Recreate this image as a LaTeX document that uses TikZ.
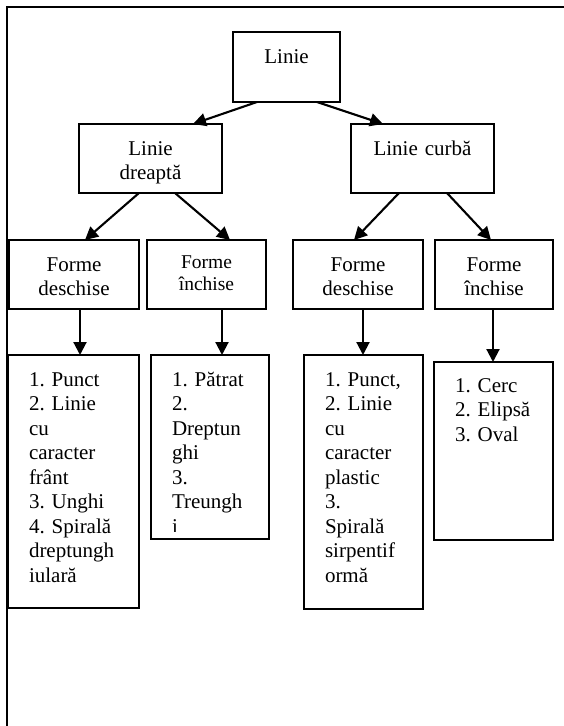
\documentclass[tikz,border=0pt]{standalone}
\usepackage{fontspec}
\setmainfont{Liberation Serif}
\frenchspacing
\usetikzlibrary{arrows.meta}

\begin{document}
\begin{tikzpicture}[x=1pt, y=-1pt,
  tbox/.style={draw, line width=2.1pt, anchor=north west, inner sep=0pt, outer sep=0pt, align=center, font=\fontsize{21}{24.5}\selectfont},
  lbox/.style={draw, line width=2.1pt, anchor=north west, inner sep=0pt, outer sep=0pt, align=left, font=\fontsize{21}{24.5}\selectfont, execute at begin node={\leftskip=21pt\relax}},
  arr/.style={-{Triangle[length=13pt, width=13pt]}, line width=2.1pt}
]
  \useasboundingbox (0, 0) rectangle (564, 726);
  \draw[line width=2.2pt] (7, 726) -- (7, 7) -- (564, 7);

  \node[tbox, text width=107pt, text height=31pt, text depth=39pt] (linie) at (233, 32) {Linie};
  \node[tbox, text width=143pt, text height=31pt, text depth=38pt] (dreapta) at (79, 124) {Linie\\dreaptă};
  \node[tbox, text width=143pt, text height=31pt, text depth=38pt] (curba) at (351, 124) {Linie curbă};

  \node[tbox, text width=130pt, text height=31pt, text depth=38pt] (fdL) at (9, 240) {Forme\\deschise};
  \node[tbox, text width=119pt, text height=28pt, text depth=41pt, font=\fontsize{19.5}{22}\selectfont] (fiL) at (147, 240) {Forme\\închise};
  \node[tbox, text width=130pt, text height=31pt, text depth=38pt] (fdR) at (293, 240) {Forme\\deschise};
  \node[tbox, text width=118pt, text height=31pt, text depth=38pt] (fiR) at (435, 240) {Forme\\închise};

  \node[lbox, text width=131pt, text height=31pt, text depth=222pt] (lstL1) at (8, 355) {1. Punct\\2. Linie\\cu\\caracter\\frânt\\3. Unghi\\4. Spirală\\dreptungh\\iulară};
  \begin{scope}
    \clip (140, 340) rectangle (280, 531);
    \node[lbox, draw=none, text width=118pt, text height=31pt, text depth=153pt] (lstL2) at (151, 355) {1. Pătrat\\2.\\Dreptun\\ghi\\3.\\Treungh\\i};
  \end{scope}
  \draw[line width=2.1pt] (lstL2.north west) rectangle (lstL2.south east);
  \node[lbox, text width=119pt, text height=31pt, text depth=223pt] (lstR1) at (304, 355) {1. Punct,\\2. Linie\\cu\\caracter\\plastic\\3.\\Spirală\\sirpentif\\ormă};
  \node[lbox, text width=119pt, text height=30pt, text depth=148pt] (lstR2) at (434, 362) {1. Cerc\\2. Elipsă\\3. Oval};

  \draw[arr] ([xshift=24pt]linie.south west) -- ([xshift=114pt]dreapta.north west);
  \draw[arr] ([xshift=84pt]linie.south west) -- ([xshift=32pt]curba.north west);
  \draw[arr] ([xshift=60pt]dreapta.south west) -- ([xshift=76pt]fdL.north west);
  \draw[arr] ([xshift=96pt]dreapta.south west) -- ([xshift=83pt]fiL.north west);
  \draw[arr] ([xshift=48pt]curba.south west) -- ([xshift=61pt]fdR.north west);
  \draw[arr] ([xshift=96pt]curba.south west) -- ([xshift=56pt]fiR.north west);

  \draw[arr] ([xshift=71pt]fdL.south west) -- ([xshift=72pt]lstL1.north west);
  \draw[arr] ([xshift=75pt]fiL.south west) -- ([xshift=71pt]lstL2.north west);
  \draw[arr] ([xshift=70pt]fdR.south west) -- ([xshift=59pt]lstR1.north west);
  \draw[arr] ([xshift=58pt]fiR.south west) -- ([xshift=59pt]lstR2.north west);
\end{tikzpicture}
\end{document}
